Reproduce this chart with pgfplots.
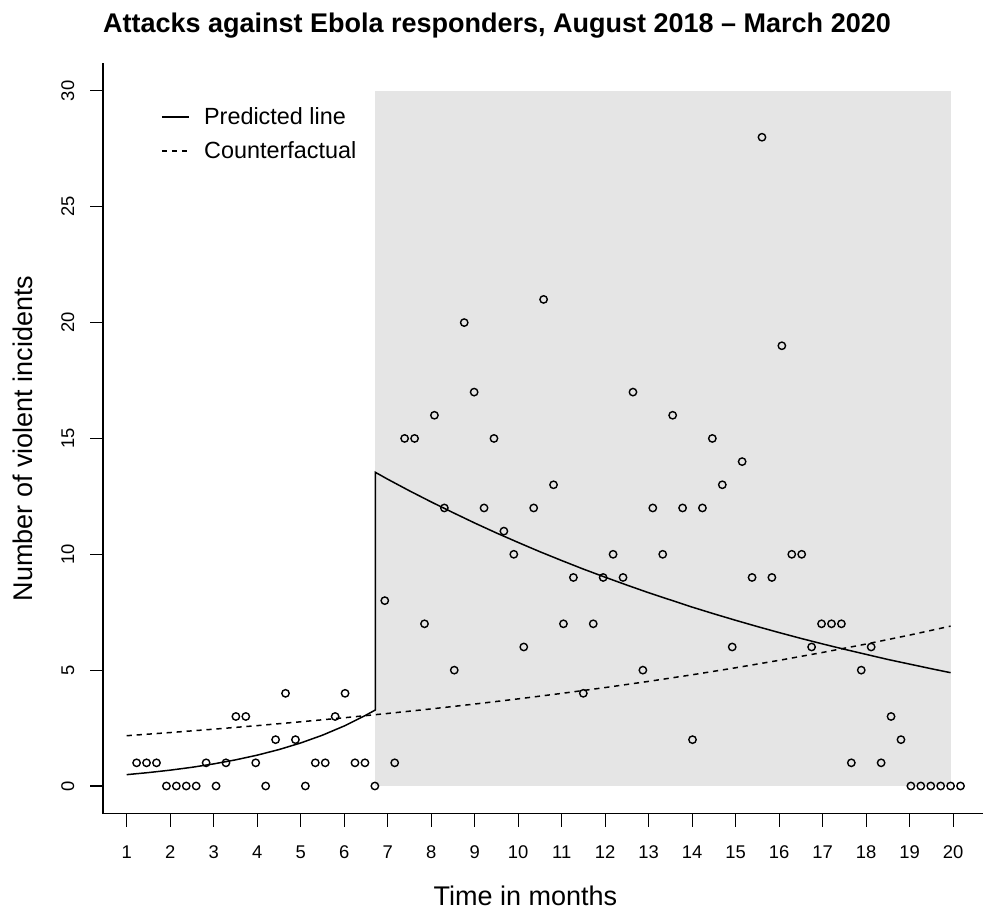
\documentclass[border=0pt]{standalone}
\usepackage{pgfplots}
\pgfplotsset{compat=1.18}
\usepackage{fontspec}
\setmainfont{Liberation Sans}
\usetikzlibrary{calc}
\definecolor{shade}{HTML}{E5E5E5}
\pgfplotstableread{
x y
1.228 1
1.456 1
1.685 1
1.913 0
2.141 0
2.369 0
2.597 0
2.826 1
3.054 0
3.282 1
3.510 3
3.738 3
3.966 1
4.195 0
4.423 2
4.651 4
4.879 2
5.107 0
5.336 1
5.564 1
5.792 3
6.020 4
6.248 1
6.477 1
6.705 0
6.933 8
7.161 1
7.389 15
7.618 15
7.846 7
8.074 16
8.302 12
8.530 5
8.759 20
8.987 17
9.215 12
9.443 15
9.671 11
9.899 10
10.128 6
10.356 12
10.584 21
10.812 13
11.040 7
11.269 9
11.497 4
11.725 7
11.953 9
12.181 10
12.410 9
12.638 17
12.866 5
13.094 12
13.322 10
13.551 16
13.779 12
14.007 2
14.235 12
14.463 15
14.692 13
14.920 6
15.148 14
15.376 9
15.604 28
15.832 9
16.061 19
16.289 10
16.517 10
16.745 6
16.973 7
17.202 7
17.430 7
17.658 1
17.886 5
18.114 6
18.343 1
18.571 3
18.799 2
19.027 0
19.255 0
19.484 0
19.712 0
19.940 0
20.168 0
}\incidents
\begin{document}
\begin{tikzpicture}
\begin{axis}[
  name=ax,
  scale only axis,
  width=440pt, height=375.35pt,
  xmin=0.4552, xmax=20.685, ymin=-1.2, ymax=31.2,
  axis lines*=left,
  axis line style={line width=0.6pt},
  tick align=outside,
  major tick length=6.45pt,
  tick style={line width=0.6pt, black},
  xtick={1,2,...,20},
  ytick={0,5,...,30},
  /pgf/number format/assume math mode=true,
  tick label style={font=\fontsize{9.2}{11}\selectfont, inner sep=0pt},
  xticklabel style={anchor=north},
  yticklabel style={rotate=90, anchor=south},
  xticklabel shift=9.15pt,
  yticklabel shift=7.7pt,
  title={Attacks against Ebola responders, August 2018 -- March 2020},
  title style={at={([yshift=9.2pt]axis description cs:0.4477,1)}, anchor=base, font=\fontsize{13.5}{16}\selectfont\bfseries, inner sep=0pt},
  xlabel={Time in months},
  xlabel style={at={([yshift=-45.6pt]axis description cs:0.4799,0)}, anchor=base, font=\fontsize{13.5}{16}\selectfont, inner sep=0pt},
  ylabel={Number of violent incidents},
  ylabel style={at={([xshift=-35.25pt]axis description cs:0,0.5)}, anchor=base, font=\fontsize{13.5}{16}\selectfont, inner sep=0pt},
  legend style={at={(axis cs:1.78,29.32)}, anchor=north west, draw=none, fill=none, inner sep=0pt, row sep=7.1pt, column sep=7.0pt, font=\fontsize{11.7}{14}\selectfont, nodes={inner sep=0pt}},
  legend cell align=left,
  legend image code/.code={\draw[#1] (0pt,0pt) -- (13.8pt,0pt);},
]
\addplot[fill=shade, draw=none, forget plot] coordinates {(6.715,0) (19.94,0) (19.94,30) (6.715,30)} -- cycle;
\addplot[only marks, mark=o, mark size=1.85pt, mark options={line width=0.7pt, black}, forget plot] table[x=x, y=y] {\incidents};
\addplot[black, line width=0.75pt] coordinates {
(1.0,0.49) (1.5,0.579) (2.0,0.684) (2.5,0.807) (3.0,0.954) (3.5,1.127) (4.0,1.331) (4.5,1.572) (5.0,1.857) (5.5,2.193) (6.0,2.590) (6.5,3.059) (6.715,3.28)
(6.715,13.54) (7.0,13.24) (7.5,12.74) (8.0,12.26) (8.5,11.80) (9.0,11.35) (9.5,10.92) (10.0,10.51) (10.5,10.11) (11.0,9.73) (11.5,9.36) (12.0,9.01) (12.5,8.67) (13.0,8.34) (13.5,8.03) (14.0,7.72) (14.5,7.43) (15.0,7.15) (15.5,6.88) (16.0,6.62) (16.5,6.37) (17.0,6.13) (17.5,5.90) (18.0,5.68) (18.5,5.46) (19.0,5.26) (19.5,5.06) (19.94,4.89)
};
\addlegendentry{Predicted line}
\addplot[black, line width=0.75pt, dash pattern=on 2.6pt off 2.4pt] coordinates {
(1,2.17) (2,2.307) (3,2.452) (4,2.606) (5,2.771) (6,2.945) (7,3.131) (8,3.327) (9,3.537) (10,3.760) (11,3.997) (12,4.249) (13,4.516) (14,4.800) (15,5.103) (16,5.424) (17,5.765) (18,6.128) (19,6.514) (19.94,6.90)
};
\addlegendentry{Counterfactual}
\end{axis}
\pgfresetboundingbox
\path[use as bounding box] ([xshift=-51.5pt,yshift=-47.6pt]ax.south west) rectangle ([yshift=31.55pt]ax.north east);
\end{tikzpicture}
\end{document}
